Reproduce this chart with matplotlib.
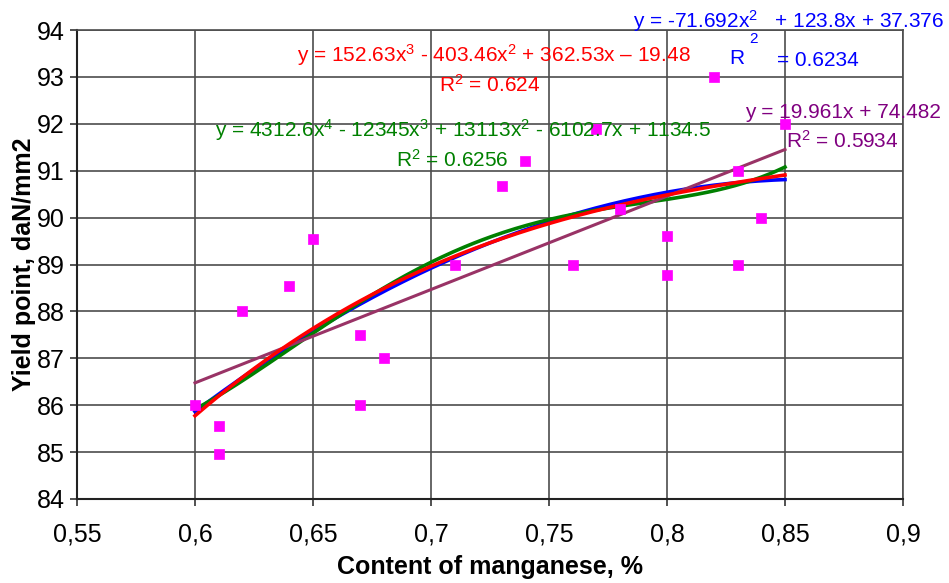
import numpy as np
import matplotlib
matplotlib.use("Agg")
import matplotlib.pyplot as plt
from matplotlib.ticker import FuncFormatter

plt.rcParams['font.family'] = ['Liberation Sans', 'DejaVu Sans']
plt.rcParams['mathtext.fontset'] = 'custom'
plt.rcParams['mathtext.rm'] = 'Liberation Sans'
plt.rcParams['mathtext.it'] = 'Liberation Sans:italic'
plt.rcParams['mathtext.bf'] = 'Liberation Sans:bold'
plt.rcParams['mathtext.default'] = 'regular'

# data: manganese content (%) vs yield point (daN/mm2)
mn = [0.60, 0.61, 0.61, 0.62, 0.64, 0.65, 0.67, 0.67, 0.68, 0.71, 0.73,
      0.74, 0.76, 0.77, 0.78, 0.80, 0.80, 0.82, 0.83, 0.83, 0.84, 0.85]
yp = [86.0, 85.55, 84.95, 88.0, 88.54, 89.55, 87.5, 86.0, 87.0, 89.0, 90.67,
      91.2, 89.0, 91.88, 90.18, 89.6, 88.78, 93.0, 91.0, 89.0, 90.0, 92.0]

xticks = [0.55, 0.6, 0.65, 0.7, 0.75, 0.8, 0.85, 0.9]
yticks = [84, 85, 86, 87, 88, 89, 90, 91, 92, 93, 94]

fig = plt.figure(figsize=(9.49, 5.83), dpi=100)
ax = fig.add_axes([77/949, 1 - 499/583, (903-77)/949, (499-30)/583])

x = np.array(mn)
y = np.array(yp)
xs = np.linspace(x.min(), x.max(), 200)

ax.scatter(x, y, marker='s', s=50, color='#FF00FF', edgecolors='#FF00FF', zorder=5, linewidths=0.5)

fits = {d: np.polyfit(x, y, d) for d in (1, 2, 3, 4)}
ax.plot(xs, np.polyval(fits[2], xs), color='#0000FF', lw=2.6, zorder=3)
ax.plot(xs, np.polyval(fits[4], xs), color='#008000', lw=2.6, zorder=3)
ax.plot(xs, np.polyval(fits[3], xs), color='#FF0000', lw=2.6, zorder=4)
ax.plot(xs, np.polyval(fits[1], xs), color='#993366', lw=2.2, zorder=3)

ax.set_xlim(0.55, 0.9)
ax.set_ylim(84, 94)
ax.set_xticks(xticks)
ax.set_yticks(yticks)
ax.xaxis.set_major_formatter(FuncFormatter(lambda v, p: ('%g' % v).replace('.', ',')))
ax.yaxis.set_major_formatter(FuncFormatter(lambda v, p: '%d' % v))
ax.tick_params(axis='both', labelsize=18, length=5, width=1.2, color='#333333')
ax.tick_params(axis='x', pad=12)
ax.tick_params(axis='y', pad=4)
ax.grid(True, color='#4d4d4d', lw=1.2)
ax.set_axisbelow(True)
for s in ['top', 'right']:
    ax.spines[s].set_color('#4d4d4d')
    ax.spines[s].set_linewidth(1.2)
for s in ['left', 'bottom']:
    ax.spines[s].set_color('#222222')
    ax.spines[s].set_linewidth(1.5)

ax.set_xlabel('Content of manganese, %', fontsize=18, fontweight='bold', labelpad=6)
ax.set_ylabel('Yield point, daN/mm2', fontsize=18, fontweight='bold', labelpad=0)

fs = 15
kw = dict(ha='center', va='center', fontsize=fs, clip_on=False, zorder=6)
ax.text(0.7267, 93.47, 'y = 152.63x$^{3}$ - 403.46x$^{2}$ + 362.53x \u2013 19.48', color='#FF0000', **kw)
ax.text(0.725, 92.83, 'R$^{2}$ = 0.624', color='#FF0000', **kw)
ax.text(0.7136, 91.87, 'y = 4312.6x$^{4}$ - 12345x$^{3}$ + 13113x$^{2}$ - 6102.7x + 1134.5', color='#008000', **kw)
ax.text(0.709, 91.23, 'R$^{2}$ = 0.6256', color='#008000', **kw)
ax.text(0.8517, 94.19, 'y = -71.692x$^{2}$   + 123.8x + 37.376', color='#0000FF', **kw)
ax.text(0.8365, 93.80, '2', color='#0000FF', ha='center', va='center', fontsize=11, clip_on=False, zorder=6)
ax.text(0.8297, 93.40, 'R', color='#0000FF', **kw)
ax.text(0.864, 93.36, '= 0.6234', color='#0000FF', **kw)
ax.text(0.8746, 92.25, 'y = 19.961x + 74.482', color='#800080', **kw)
ax.text(0.8743, 91.63, 'R$^{2}$ = 0.5934', color='#800080', **kw)

fig.savefig('out.png', dpi=100)
